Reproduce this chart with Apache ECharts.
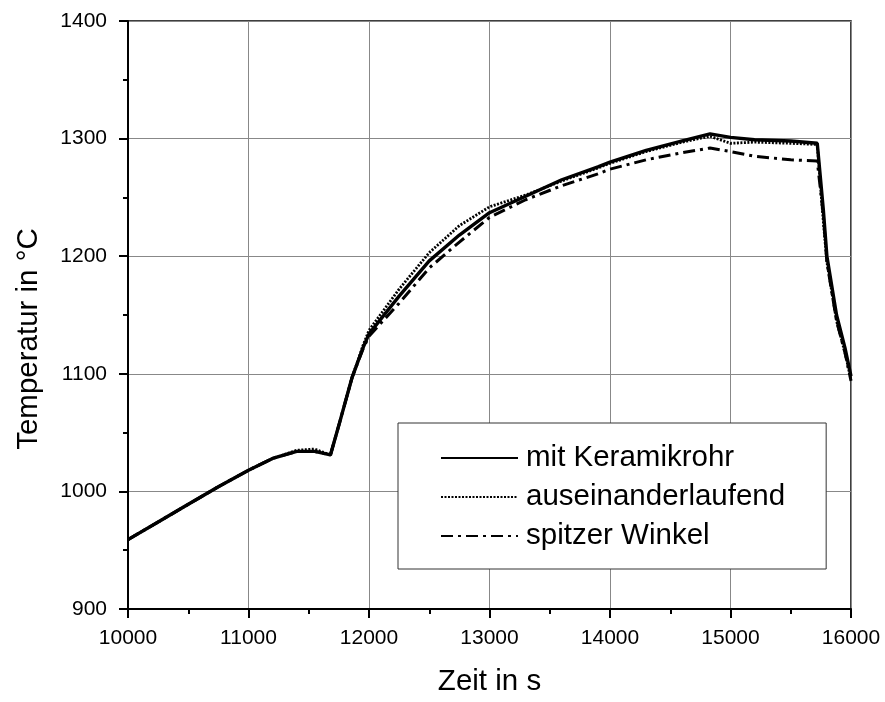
<!DOCTYPE html>
<html>
<head>
<meta charset="utf-8">
<script src="https://cdn.jsdelivr.net/npm/echarts@6/dist/echarts.min.js"></script>
<style>html,body{margin:0;padding:0;background:#fff;}#c{width:885px;height:702px;}</style>
</head>
<body>
<div id="c"></div>
<script>
const timeSolid = [10000,10250,10500,10750,11000,11200,11400,11550,11680,11760,11860,11950,12000,12250,12500,12750,13000,13300,13600,13900,14000,14300,14600,14830,15000,15200,15500,15720,15770,15800,15880,15950,16000];
const keramik   = [959,974,989,1004,1018,1028,1034,1034,1031,1060,1097,1122,1134,1166,1196,1218,1237,1251,1265,1276,1280,1290,1298,1304,1301,1299,1298,1296,1240,1200,1150,1122,1098];
const auseinander = [959,974,989,1004,1018,1028,1035,1036,1031,1060,1097,1124,1137,1172,1203,1226,1242,1252,1264,1275,1279,1289,1297,1302,1296,1297,1296,1295,1230,1195,1145,1118,1095];
const spitzer   = [959,974,989,1004,1018,1028,1034,1034,1031,1060,1097,1121,1132,1160,1190,1212,1233,1248,1260,1270,1274,1282,1288,1292,1289,1285,1282,1281,1235,1195,1145,1118,1094];
const seriesNames = ['mit Keramikrohr','auseinanderlaufend','spitzer Winkel'];
const xName = 'Zeit in s';
const yName = 'Temperatur in °C';

function pairs(t, v){ return t.map((x,i)=>[x, v[i]]); }

const FONT = '"Liberation Sans", Arial, sans-serif';
const chart = echarts.init(document.getElementById('c'), null, {renderer:'canvas'});
chart.setOption({
  animation:false,
  backgroundColor:'#fff',
  grid:{left:128, right:34, top:21, bottom:92, show:true, borderColor:'#000', borderWidth:1.5, backgroundColor:'transparent'},
  xAxis:{
    type:'value', min:10000, max:16000, interval:1000,
    name:xName, nameLocation:'middle', nameGap:58,
    nameTextStyle:{fontFamily:FONT, fontSize:29.5, color:'#000'},
    axisLine:{show:true, lineStyle:{color:'#000', width:2}},
    axisTick:{show:true, inside:false, length:9, lineStyle:{color:'#000', width:2}},
    minorTick:{show:true, splitNumber:2, length:5, lineStyle:{color:'#000', width:2}},
    axisLabel:{fontFamily:FONT, fontSize:21, color:'#000', margin:19, formatter:v=>String(v)},
    splitLine:{show:true, lineStyle:{color:'#888', width:1}}
  },
  yAxis:{
    type:'value', min:900, max:1400, interval:100,
    name:yName, nameLocation:'middle', nameGap:84, nameRotate:90,
    nameTextStyle:{fontFamily:FONT, fontSize:29.5, color:'#000', padding:[0,48,0,0]},
    axisLine:{show:true, lineStyle:{color:'#000', width:2}},
    axisTick:{show:true, inside:false, length:9, lineStyle:{color:'#000', width:2}},
    minorTick:{show:true, splitNumber:2, length:5, lineStyle:{color:'#000', width:2}},
    axisLabel:{fontFamily:FONT, fontSize:21, color:'#000', margin:21, formatter:v=>String(v)},
    splitLine:{show:true, lineStyle:{color:'#888', width:1}}
  },
  legend:{
    orient:'vertical', left:398, top:423,
    padding:[20,41,18,42], itemGap:9,
    itemWidth:77, itemHeight:14,
    backgroundColor:'#fff', borderColor:'#333', borderWidth:1,
    itemStyle:{opacity:0},
    textStyle:{fontFamily:FONT, fontSize:29.5, color:'#000', padding:[0,0,0,3]},
    data:seriesNames
  },
  series:[
    {name:seriesNames[0], type:'line', symbol:'none', showSymbol:false, data:pairs(timeSolid, keramik), z:5,
     lineStyle:{color:'#000', width:3.4, type:'solid'}, itemStyle:{color:'#000'}},
    {name:seriesNames[1], type:'line', symbol:'none', showSymbol:false, data:pairs(timeSolid, auseinander), z:4,
     lineStyle:{color:'#000', width:2.8, type:[2,1.5]}, itemStyle:{color:'#000'}},
    {name:seriesNames[2], type:'line', symbol:'none', showSymbol:false, data:pairs(timeSolid, spitzer), z:3,
     lineStyle:{color:'#000', width:3, type:[12,5,3,5]}, itemStyle:{color:'#000'}}
  ]
});
</script>
</body>
</html>
